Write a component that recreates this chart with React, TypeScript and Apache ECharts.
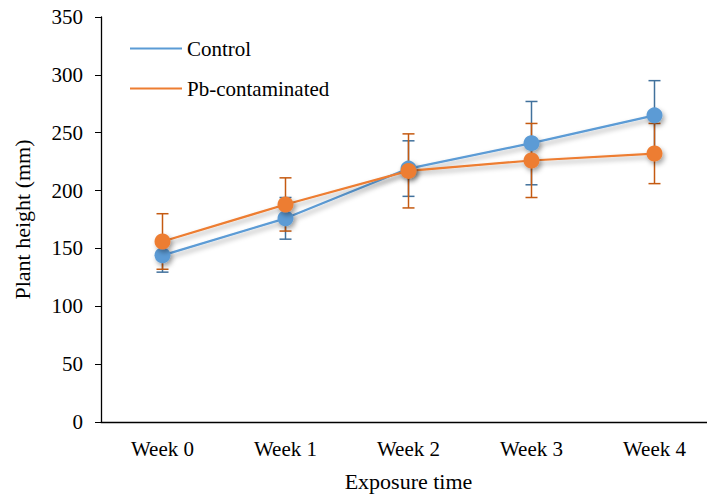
import React, { useEffect, useRef } from "react";
import * as echarts from "echarts";

const categories = ["Week 0", "Week 1", "Week 2", "Week 3", "Week 4"];
const controlMean = [144, 176, 219, 241, 265];
const controlSd = [14.5, 18, 24, 36, 30];
const pbMean = [156, 188, 217, 226, 232];
const pbSd = [24, 23, 32, 32, 26];
const yTicks = { min: 0, max: 350, interval: 50 };

const FONT = "'Liberation Serif', 'Times New Roman', serif";

function errData(mean: number[], sd: number[]) {
  return mean.map((m, i) => [i, m - sd[i], m + sd[i]]);
}

function errSeries(name: string, mean: number[], sd: number[], color: string) {
  return {
    type: "custom",
    name,
    z: 1,
    silent: true,
    encode: { x: 0, y: [1, 2] },
    data: errData(mean, sd),
    renderItem: (params: any, api: any) => {
      const x = api.value(0);
      const lo = api.coord([x, api.value(1)]);
      const hi = api.coord([x, api.value(2)]);
      const hw = 6;
      const style = { stroke: color, lineWidth: 1.5 };
      return {
        type: "group",
        children: [
          { type: "line", shape: { x1: lo[0], y1: lo[1], x2: hi[0], y2: hi[1] }, style },
          { type: "line", shape: { x1: hi[0] - hw, y1: hi[1], x2: hi[0] + hw, y2: hi[1] }, style },
          { type: "line", shape: { x1: lo[0] - hw, y1: lo[1], x2: lo[0] + hw, y2: lo[1] }, style },
        ],
      };
    },
  };
}

function lineSeries(name: string, data: number[], color: string) {
  const shadow = {
    shadowColor: "rgba(0,0,0,0.35)",
    shadowBlur: 5,
    shadowOffsetX: 2,
    shadowOffsetY: 3,
  };
  return {
    type: "line",
    name,
    z: 2,
    data,
    symbol: "circle",
    symbolSize: 16,
    lineStyle: { color, width: 2.2, ...shadow },
    itemStyle: { color, borderWidth: 0, ...shadow },
  };
}

export default function App() {
  const ref = useRef<HTMLDivElement>(null);
  useEffect(() => {
    const chart = echarts.init(ref.current!, undefined, { renderer: "svg" });
    chart.setOption({
      animation: false,
      backgroundColor: "#fff",
      textStyle: { fontFamily: FONT },
      grid: { left: 101, top: 17, width: 615, height: 405, outerBoundsMode: "none" },
      legend: {
        data: ["Control", "Pb-contaminated"],
        orient: "vertical",
        left: 130,
        top: 38,
        padding: 0,
        icon: "rect",
        itemWidth: 52,
        itemHeight: 2,
        itemGap: 19,
        textStyle: { fontFamily: FONT, fontSize: 21, color: "#000" },
      },
      xAxis: {
        type: "category",
        data: categories,
        boundaryGap: true,
        name: "Exposure time",
        nameLocation: "middle",
        nameGap: 48,
        nameTextStyle: { fontFamily: FONT, fontSize: 22, color: "#000" },
        axisLine: { lineStyle: { color: "#000", width: 1.3 } },
        axisTick: { alignWithLabel: true, length: 6, lineStyle: { color: "#000" } },
        axisLabel: { fontFamily: FONT, fontSize: 21, color: "#000", margin: 16 },
        splitLine: { show: false },
      },
      yAxis: {
        type: "value",
        min: yTicks.min,
        max: yTicks.max,
        interval: yTicks.interval,
        name: "Plant height (mm)",
        nameLocation: "middle",
        nameGap: 68,
        nameTextStyle: { fontFamily: FONT, fontSize: 22, color: "#000" },
        axisLine: { show: true, lineStyle: { color: "#000", width: 1.3 } },
        axisTick: { show: true, length: 6, lineStyle: { color: "#000" } },
        axisLabel: { fontFamily: FONT, fontSize: 21, color: "#000", margin: 18 },
        splitLine: { show: false },
      },
      series: [
        errSeries("Control err", controlMean, controlSd, "#41719C"),
        errSeries("Pb err", pbMean, pbSd, "#C55A11"),
        lineSeries("Control", controlMean, "#5B9BD5"),
        lineSeries("Pb-contaminated", pbMean, "#ED7D31"),
      ],
    });
    return () => chart.dispose();
  }, []);
  return (
    <div
      ref={ref}
      style={{ position: "fixed", left: 0, top: 0, width: 707, height: 496, background: "#fff" }}
    />
  );
}
